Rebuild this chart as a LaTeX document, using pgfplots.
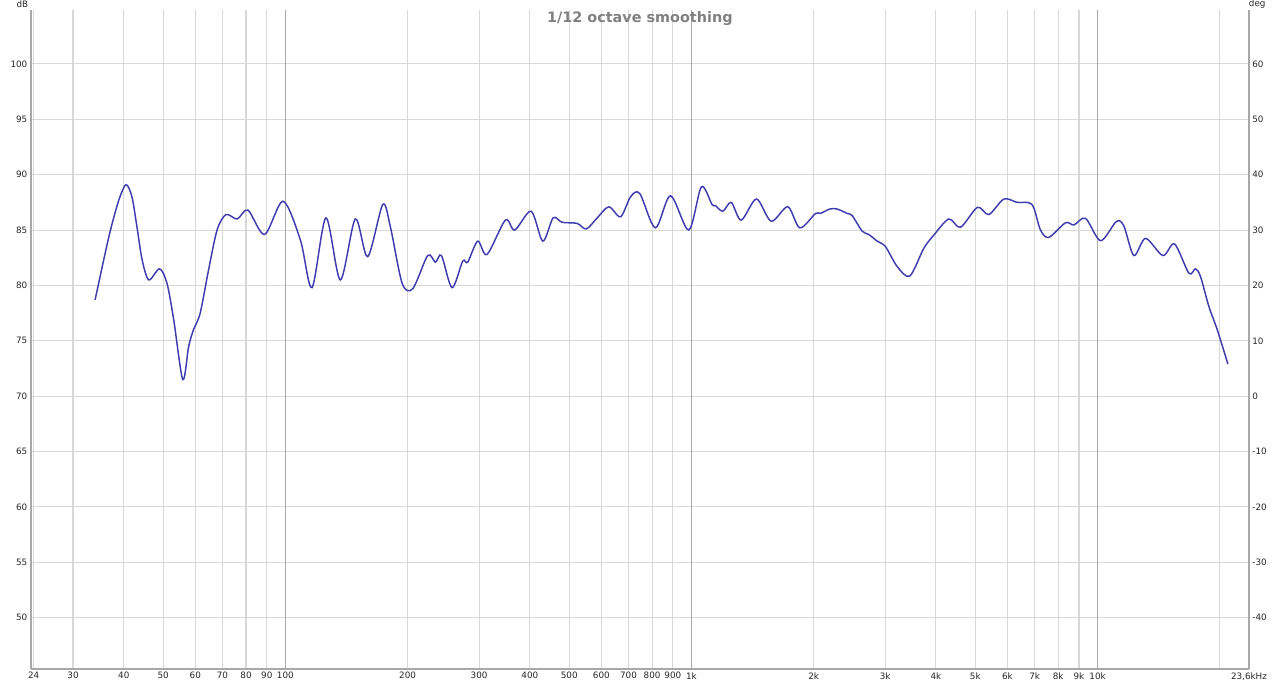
\documentclass[border=0pt]{standalone}
\usepackage{pgfplots}
\pgfplotsset{compat=1.18}
\usepackage{fontspec}
\setmainfont{DejaVu Sans}
\definecolor{curve}{RGB}{60,60,176}
\definecolor{minorgrid}{RGB}{216,216,216}
\definecolor{majorgrid}{RGB}{170,170,170}
\definecolor{border}{RGB}{168,168,168}
\definecolor{titlegray}{RGB}{128,128,128}
\begin{document}
\begin{tikzpicture}
\useasboundingbox (-23.03pt,-11.25pt) rectangle (936.98pt,501.75pt);
\begin{axis}[
  scale only axis, width=913.7pt, height=494.5pt,
  at={(0,0)}, anchor=south west,
  xmode=log, xmin=23.6, xmax=23600,
  ymin=45.37, ymax=104.9,
  axis y line*=left, axis x line*=bottom,
  axis line style={border, line width=1.4pt, -},
  xtick={24,30,40,50,60,70,80,90,100,200,300,400,500,600,700,800,900,1000,2000,3000,4000,5000,6000,7000,8000,9000,10000,20000,23600},
  xticklabels={24,30,40,50,60,70,80,90,100,200,300,400,500,600,700,800,900,1k,2k,3k,4k,5k,6k,7k,8k,9k,10k,,{23,6kHz}},
  ytick={50,55,...,100},
  major tick length=0pt,
  grid=major,
  major grid style={minorgrid, line width=0.8pt},
  extra x ticks={100,1000,10000},
  extra x tick labels={},
  extra x tick style={grid=major, major grid style={majorgrid, line width=1pt}},
  tick label style={font=\fontsize{6.6}{8}\selectfont, text=black!85},
  xticklabel style={yshift=1pt},
  yticklabel style={xshift=1pt},
  /pgf/number format/assume math mode=true,
  clip=false,
]
\addplot[color=curve, line width=1.1pt, smooth] coordinates {
(34.0,78.7) (35.7,82.3) (37.1,85.0) (38.9,87.7) (40.5,89.1) (41.9,88.0) (43.1,85.3) (44.4,82.3)
(46.1,80.5) (49.0,81.5) (51.1,80.2) (53.1,76.9) (55.9,71.5) (57.8,74.5) (59.4,76.0)
(61.7,77.5) (64.7,81.4) (67.9,85.0) (71.4,86.4) (76.1,86.0) (80.9,86.8) (88.9,84.6)
(98.7,87.6) (108.9,84.1) (116.3,79.8) (125.9,86.1) (136.6,80.5) (148.7,86.0) (159.5,82.6)
(173.7,87.3) (181.4,85.3) (193.9,80.2) (205.9,79.7) (224.2,82.7) (234.2,82.1) (242.3,82.7)
(257.3,79.8) (273.4,82.2) (281.2,82.1) (297.7,84.0) (313.8,82.8) (348.3,85.9) (367.2,85.0)
(402.9,86.7) (430.4,84.0) (456.5,86.1) (480.4,85.7) (523,85.6) (551,85.1) (586,86.1)
(626,87.1) (669,86.2) (708,88.0) (746,88.3) (815,85.2) (888,88.1) (985,85.0)
(1058,88.9) (1124,87.3) (1146,87.2) (1195,86.7) (1253,87.5) (1326,85.9) (1446,87.8)
(1572,85.8) (1727,87.1) (1849,85.2) (2021,86.5) (2078,86.5) (2191,86.9) (2285,86.9)
(2418,86.5) (2488,86.3) (2633,84.9) (2734,84.6) (2867,84.0) (3005,83.5) (3212,81.7)
(3449,80.85) (3734,83.35) (3954,84.55) (4303,86.0) (4598,85.25) (5060,87.05) (5399,86.4)
(5879,87.8) (6341,87.5) (6772,87.47) (6970,87.0) (7238,85.0) (7588,84.34) (8341,85.66)
(8744,85.46) (9341,86.06) (10171,84.04) (11117,85.76) (11600,85.4) (12287,82.7) (13131,84.25)
(14482,82.7) (15477,83.74) (16786,81.1) (17430,81.5) (17931,80.8) (18802,78.1) (19717,76.0)
(20942,72.9)
};
\node[font=\fontsize{10.8}{13}\selectfont\bfseries, text=titlegray] at (rel axis cs:0.5,1) [yshift=-6.4pt] {1/12 octave smoothing};
\node[font=\fontsize{6.6}{8}\selectfont, text=black!85] at (rel axis cs:0,1) [xshift=-6.2pt, yshift=4.0pt] {dB};
\node[font=\fontsize{6.6}{8}\selectfont, text=black!85] at (rel axis cs:1,1) [xshift=6.2pt, yshift=4.2pt] {deg};
\end{axis}
\begin{axis}[
  scale only axis, width=913.7pt, height=494.5pt,
  at={(0,0)}, anchor=south west,
  xmode=log, xmin=23.6, xmax=23600,
  ymin=-49.26, ymax=69.8,
  axis y line*=right, axis x line=none,
  axis line style={border, line width=1.4pt, -},
  ytick={-40,-30,...,60},
  major tick length=0pt,
  tick label style={font=\fontsize{6.6}{8}\selectfont, text=black!85},
  yticklabel style={xshift=-1pt},
  /pgf/number format/assume math mode=true,
]
\end{axis}
\end{tikzpicture}
\end{document}
